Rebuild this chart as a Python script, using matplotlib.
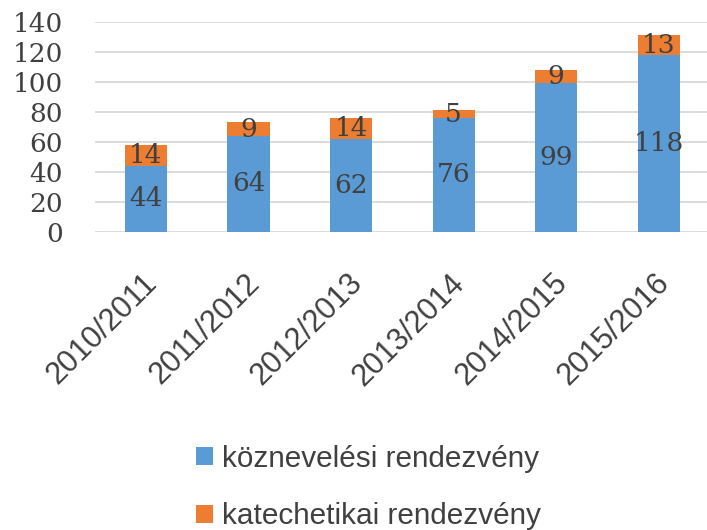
import matplotlib
matplotlib.use("Agg")
import matplotlib.pyplot as plt
import matplotlib.transforms as mtransforms
import numpy as np

years = ["2010/2011", "2011/2012", "2012/2013", "2013/2014", "2014/2015", "2015/2016"]
koznevelesi = [44, 64, 62, 76, 99, 118]
katechetikai = [14, 9, 14, 5, 9, 13]

blue = "#5B9BD5"
orange = "#ED7D31"
text_col = "#404040"

plt.rcParams['font.family'] = ['Liberation Sans', 'DejaVu Sans']

fig = plt.figure(figsize=(7.07, 5.30), dpi=100)
ax = fig.add_axes([0.134, 0.5623, 0.870, 0.3967])

x = np.arange(len(years))
b1 = ax.bar(x, koznevelesi, 0.41, color=blue, label="köznevelési rendezvény", zorder=2)
b2 = ax.bar(x, katechetikai, 0.41, bottom=koznevelesi, color=orange,
            label="katechetikai rendezvény", zorder=2)
ax.bar_label(b1, label_type='center', fontsize=19, color=text_col, family='DejaVu Serif')
ax.bar_label(b2, label_type='center', fontsize=19, color=text_col, family='DejaVu Serif')

ax.set_ylim(0, 140)
ax.set_yticks(range(0, 141, 20))
ax.set_xlim(-0.5, len(years) - 0.5)
ax.set_xticks(x)
ax.set_xticklabels(years, rotation=45, ha='right', rotation_mode='anchor')
ax.tick_params(axis='both', length=0, colors=text_col)
ax.tick_params(axis='x', pad=26, labelsize=22)
ax.tick_params(axis='y', pad=23, labelsize=19)
for lbl in ax.get_yticklabels():
    lbl.set_family('DejaVu Serif')
shift = mtransforms.ScaledTranslation(-4 / 100, 0, fig.dpi_scale_trans)
for lbl in ax.get_xticklabels():
    lbl.set_transform(lbl.get_transform() + shift)
ax.grid(axis='y', color='#D9D9D9', linewidth=1.3, zorder=0)
for s in ax.spines.values():
    s.set_visible(False)

fig.legend(handles=[b1, b2], loc='center', bbox_to_anchor=(0.521, 0.080),
           bbox_transform=fig.transFigure, ncol=1, frameon=False, fontsize=21.4,
           labelcolor=text_col, handlelength=0.55, handleheight=0.55,
           handletextpad=0.3, labelspacing=1.0)

fig.savefig("out.png", dpi=100)
